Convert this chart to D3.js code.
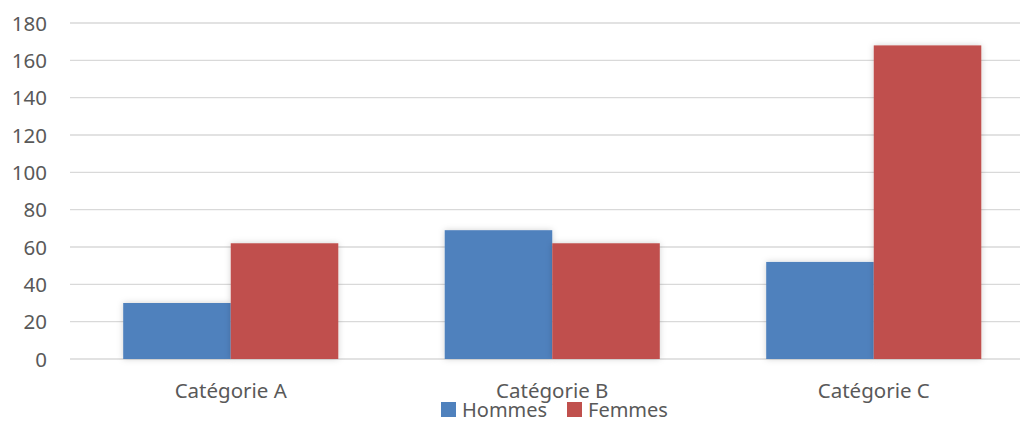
<!DOCTYPE html>
<html><head><meta charset="utf-8">
<script src="https://cdn.jsdelivr.net/npm/d3@7"></script>
<style>body{margin:0;background:#fff;} text{font-family:"Noto Sans",sans-serif;fill:#595959;}</style>
</head><body>
<svg id="c" width="1020" height="421"></svg>
<script>
const categories = ["Catégorie A", "Catégorie B", "Catégorie C"];
const seriesNames = ["Hommes", "Femmes"];
const hommes = [30, 69, 52];
const femmes = [62, 62, 168];
const yTicks = [0, 20, 40, 60, 80, 100, 120, 140, 160, 180];
const colors = ["#4f81bd", "#c0504d"];

const svg = d3.select("#c");
const plotLeft = 70, plotRight = 1034.5, plotTop = 23, plotBottom = 359;
const y = d3.scaleLinear().domain([0, 180]).range([plotBottom, plotTop]);
const x = d3.scaleBand().domain(categories).range([plotLeft, plotRight]).paddingInner(0.331).paddingOuter(0.1655);
const xs = d3.scaleBand().domain(seriesNames).range([0, x.bandwidth()]);

const defs = svg.append("defs");
const f = defs.append("filter").attr("id","sh").attr("x","-20%").attr("y","-20%").attr("width","140%").attr("height","140%");
f.append("feDropShadow").attr("dx",0).attr("dy",0).attr("stdDeviation",3).attr("flood-color","#000").attr("flood-opacity",0.18);

// gridlines
svg.append("g").selectAll("line").data(yTicks).join("line")
  .attr("x1", plotLeft).attr("x2", plotRight)
  .attr("y1", d => y(d)).attr("y2", d => y(d))
  .attr("stroke", "#d9d9d9").attr("stroke-width", 1.3);

// y axis labels
const yAxis = d3.axisLeft(y).tickValues(yTicks).tickSize(0).tickPadding(0);
const ya = svg.append("g").attr("transform", "translate(47,0)").call(yAxis);
ya.select(".domain").remove();
ya.selectAll("text").style("font-size","20.5px").attr("fill","#595959").attr("dy","0.35em");

// bars
const data = categories.map((c, i) => ({c, vals: [hommes[i], femmes[i]]}));
const groups = svg.append("g").selectAll("g").data(data).join("g")
  .attr("transform", d => `translate(${x(d.c)},0)`);
groups.selectAll("rect").data(d => d.vals.map((v, j) => ({s: seriesNames[j], v, j}))).join("rect")
  .attr("x", d => xs(d.s)).attr("width", xs.bandwidth())
  .attr("y", d => y(d.v)).attr("height", d => y(0) - y(d.v))
  .attr("fill", d => colors[d.j]).attr("filter","url(#sh)");

// x axis labels
const xAxis = d3.axisBottom(x).tickSize(0).tickPadding(0);
const xa = svg.append("g").attr("transform", "translate(0,384)").call(xAxis);
xa.select(".domain").remove();
xa.selectAll("text").style("font-size","20.5px").attr("fill","#595959").attr("dy","0.7em");

// legend
const legend = svg.append("g");
const legX = [441, 567];
seriesNames.forEach((s, i) => {
  const g = legend.append("g").attr("transform", `translate(${legX[i]},402)`);
  g.append("rect").attr("width", 15).attr("height", 15).attr("fill", colors[i]);
  g.append("text").attr("x", 21).attr("y", 14.5).style("font-size","20px").text(s);
});
</script>
</body></html>
